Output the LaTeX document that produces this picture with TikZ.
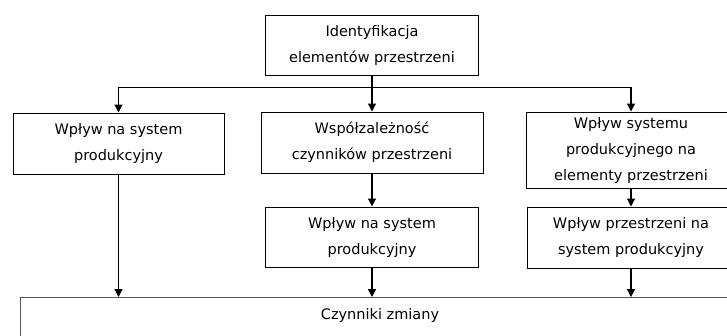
\documentclass[tikz,border=0pt]{standalone}
\usepackage{fontspec}
\setmainfont{DejaVu Sans}
\usetikzlibrary{arrows.meta,positioning}
\definecolor{ink}{HTML}{000000}
\definecolor{rule}{HTML}{555555}
\tikzset{
  blk/.style={draw=ink, line width=1pt, inner sep=0pt,
              font=\fontsize{14.5}{26}\selectfont, align=center, text=ink},
  ch/.style={-{Triangle[length=8pt,width=8pt]}, line width=1.2pt, draw=ink},
}

\begin{document}
\begin{tikzpicture}[x=1pt, y=-1pt]
    \useasboundingbox (0,0) rectangle (727,335);
    \clip (0,0) rectangle (727,335);
    \node[blk, minimum width=213pt, minimum height=60pt] (ident) at (372,45) {Identyfikacja\\elementów przestrzeni};
    \node[blk, minimum width=211pt, minimum height=61pt] (wplyw) at (118.5,143.5) {Wpływ na system\\produkcyjny};
    \node[blk, minimum width=222pt, minimum height=61pt] (wspol) at (372,142.5) {Współzależność\\czynników przestrzeni};
    \node[blk, minimum width=213pt, minimum height=60pt] (wplywb) at (372,237) {Wpływ na system\\produkcyjny};
    \node[blk, minimum width=210pt, minimum height=76pt] (wsys) at (631,150) {Wpływ systemu\\produkcyjnego na\\elementy przestrzeni};
    \node[blk, minimum width=208pt, minimum height=61pt] (wprz) at (631,237.5) {Wpływ przestrzeni na\\system produkcyjny};
    \node[blk, draw=rule, anchor=north, minimum width=720pt, text height=22pt, text depth=40pt] (zmiana) at (380,297) {Czynniki zmiany};
    \coordinate[below=12pt of ident.south] (bus);
    \draw[line width=1.2pt] (ident.south) -- (bus);
    \draw[ch] (bus) -| (wplyw.north); \draw[ch] (bus) -| (wsys.north);
    \draw[ch] (bus) -- (wspol.north);
    \draw[ch] (wspol) -- (wplywb); \draw[ch] (wsys) -- (wprz);
    \draw[ch] (wplyw.south) -- (wplyw.south |- zmiana.north);
    \draw[ch] (wplywb.south) -- (wplywb.south |- zmiana.north);
    \draw[ch] (wprz.south) -- (wprz.south |- zmiana.north);
  \end{tikzpicture}
\end{document}
